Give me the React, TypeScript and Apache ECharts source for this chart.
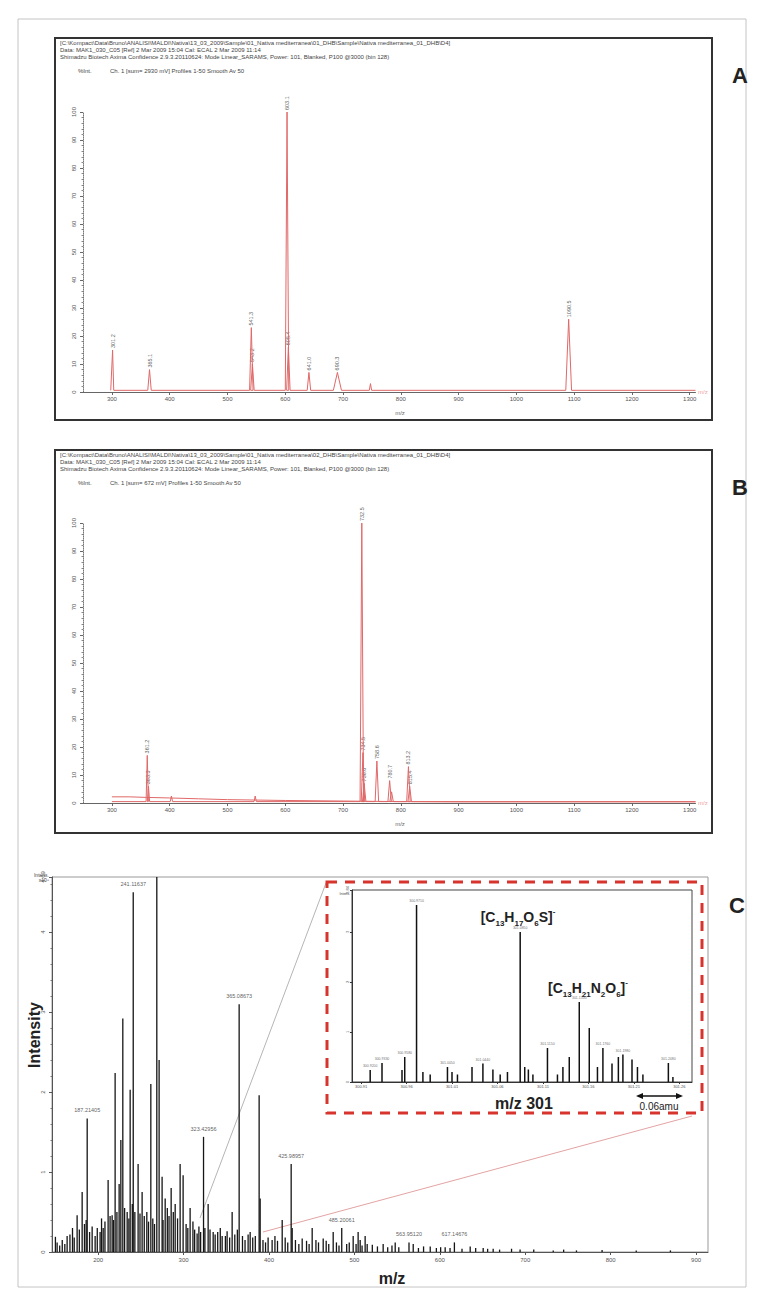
import React, { useEffect, useRef } from "react";
import * as echarts from "echarts";

// ---------- DATA ----------
// Panel A (MALDI, relative intensity %)
const mzA = [301.2, 365.1, 541.3, 543.2, 603.1, 605.4, 641.0, 690.3, 747.5, 1090.5];
const intA = [15, 8, 23, 10, 100, 16, 7, 7, 3, 26];
const halfWidthA = [2, 3, 3, 3, 3, 3, 3, 7, 2, 5];
const labelA = ["301.2", "365.1", "541.3", "543.2", "603.1", "605.4", "641.0", "690.3", "", "1090.5"];
const baseA = 0.6;

// Panel B
const mzB = [361.2, 363.3, 403.0, 548.0, 732.5, 734.5, 736.6, 758.6, 780.7, 784.0, 813.2, 815.4];
const intB = [17, 6, 2.5, 2.5, 100, 18, 7, 15, 8, 4, 13, 6];
const halfWidthB = [2, 2, 2, 2, 3, 3, 3, 3, 3, 3, 3, 3];
const labelB = ["361.2", "363.3", "", "", "732.5", "734.5", "736.6", "758.6", "780.7", "", "813.2", "815.4"];
const baseBmz = [300, 330, 360, 400, 450, 500, 600, 700, 800, 900, 1310];
const baseBint = [2.2, 2.2, 2.0, 1.8, 1.5, 1.2, 0.9, 0.7, 0.5, 0.4, 0.4];

// Panel C main spectrum (intensity x10^8)
const peaksC: [number, number][] = [
  [150, 0.19], [163.7, 0.2], [175.4, 0.46], [181.3, 0.75], [187.2, 1.67], [196.5, 0.2],
  [202.3, 0.25], [205.9, 0.3], [211.7, 0.9], [216.4, 0.46], [219.9, 2.24], [224.6, 0.85],
  [226.6, 1.4], [228.9, 2.92], [234, 0.5], [237.5, 2.03], [241.1, 4.5], [246.8, 1.1],
  [251.5, 0.75], [261.7, 2.1], [268.7, 4.69], [271.4, 2.4], [274.9, 0.94], [278.5, 0.67],
  [285.5, 0.8], [290.2, 0.6], [296, 1.1], [299.5, 0.96], [307.7, 0.55], [315.9, 0.23],
  [323.4, 1.44], [328.8, 0.6], [334.7, 0.25], [345.2, 0.2], [356.9, 0.5], [365.1, 3.1],
  [375.6, 0.22], [388.5, 1.96], [389.7, 0.67], [403.7, 0.15], [415.5, 0.4], [426.0, 1.1],
  [427.2, 0.3], [438.9, 0.17], [450.6, 0.3], [463.5, 0.17], [475.2, 0.25], [485.2, 0.3],
  [498.6, 0.2], [504.4, 0.25], [506.8, 0.15], [512.6, 0.2], [533.7, 0.1], [547.8, 0.12],
  [563.95, 0.12], [568.9, 0.1], [588.8, 0.07], [606.3, 0.06], [617.1, 0.12], [635.6, 0.07],
  [650.8, 0.05], [662.5, 0.04], [694, 0.03], [732.8, 0.02]
];
const carpetC: [number, number][] = [
  [152, 0.12], [155, 0.08], [158, 0.15], [161, 0.1], [167, 0.22], [170, 0.3], [172, 0.18],
  [178, 0.28], [184, 0.35], [186, 0.4], [190, 0.25], [193, 0.32], [199, 0.3], [204, 0.42],
  [208, 0.38], [214, 0.45], [218, 0.4], [222, 0.5], [231, 0.55], [236, 0.42], [240, 0.6],
  [243, 0.5], [249, 0.48], [254, 0.45], [257, 0.5], [259, 0.38], [264, 0.42], [266, 0.35],
  [276, 0.4], [281, 0.55], [283, 0.45], [288, 0.5], [293, 0.42], [303, 0.35], [305, 0.3],
  [311, 0.38], [313, 0.28], [318, 0.32], [320, 0.25], [325, 0.3], [331, 0.28], [337, 0.22],
  [340, 0.25], [343, 0.3], [349, 0.2], [351, 0.26], [354, 0.18], [360, 0.22], [363, 0.28],
  [369, 0.2], [372, 0.15], [378, 0.25], [381, 0.18], [384, 0.2], [393, 0.15], [396, 0.12],
  [399, 0.18], [407, 0.2], [410, 0.14], [419, 0.18], [422, 0.12], [431, 0.15], [435, 0.1],
  [444, 0.14], [447, 0.1], [455, 0.15], [458, 0.12], [467, 0.14], [470, 0.1], [479, 0.12],
  [482, 0.08], [491, 0.1], [494, 0.12], [502, 0.1], [509, 0.08], [515, 0.1], [521, 0.09],
  [527, 0.07], [539, 0.06], [544, 0.08], [552, 0.06], [575, 0.05], [581, 0.07], [596, 0.05],
  [601, 0.06], [612, 0.05], [626, 0.04], [642, 0.05], [656, 0.04], [670, 0.03], [684, 0.04],
  [710, 0.03], [745, 0.03], [760, 0.02], [790, 0.025], [830, 0.02], [870, 0.02]
];
const labelsC: [number, number, string][] = [
  [187.2, 1.67, "187.21405"], [241.1, 4.5, "241.11637"], [323.4, 1.44, "323.42956"],
  [365.1, 3.1, "365.08673"], [426.0, 1.1, "425.98957"], [485.2, 0.3, "485.20061"],
  [563.95, 0.12, "563.95120"], [617.1, 0.12, "617.14676"]
];
const ticksC = [200, 300, 400, 500, 600, 700, 800, 900];

// Inset: m/z 301 region
const peaksInset: [number, number][] = [
  [300.920, 0.24], [300.933, 0.38], [300.955, 0.24], [300.958, 0.5], [300.971, 3.54],
  [300.978, 0.2], [300.986, 0.15], [301.005, 0.3], [301.010, 0.2], [301.016, 0.15],
  [301.032, 0.3], [301.044, 0.37], [301.055, 0.25], [301.063, 0.15], [301.071, 0.2],
  [301.085, 3.0], [301.090, 0.3], [301.094, 0.25], [301.099, 0.15], [301.115, 0.68],
  [301.126, 0.15], [301.132, 0.3], [301.139, 0.5], [301.150, 1.6], [301.161, 1.08],
  [301.170, 0.3], [301.176, 0.68], [301.186, 0.37], [301.193, 0.5], [301.198, 0.55],
  [301.208, 0.45], [301.214, 0.3], [301.220, 0.15], [301.248, 0.38], [301.253, 0.1]
];
const labeledInset = [300.920, 300.933, 300.958, 300.971, 301.005, 301.044, 301.085, 301.115, 301.150, 301.176, 301.198, 301.248];
const ticksInset = [300.91, 300.96, 301.01, 301.06, 301.11, 301.16, 301.21, 301.26];
const ticksAB = [300, 400, 500, 600, 700, 800, 900, 1000, 1100, 1200, 1300];

// ---------- helpers ----------
const FONT = "'Liberation Sans', Arial, sans-serif";

function profile(mz: number[], it: number[], hw: number[], base: number, start: number, end: number) {
  const idx = mz.map((_, i) => i).sort((a, b) => mz[a] - mz[b]);
  const pts: number[][] = [[start, base]];
  for (const i of idx) {
    pts.push([mz[i] - hw[i], base], [mz[i], it[i]], [mz[i] + hw[i], base]);
  }
  pts.push([end, base]);
  return pts;
}

function labelPoints(mz: number[], it: number[], lab: string[]) {
  return mz
    .map((m, i) => ({ value: [m, it[i]], label: { formatter: lab[i] } }))
    .filter((d) => d.label.formatter !== "");
}

function msXAxis(gi: number) {
  return {
    gridIndex: gi, type: "value", min: 250, max: 1310,
    axisLine: { lineStyle: { color: "#666", width: 1 } },
    axisTick: { customValues: ticksAB, length: 3, lineStyle: { color: "#666" } },
    axisLabel: { customValues: ticksAB, fontSize: 6, color: "#555", margin: 4, fontFamily: FONT, formatter: (v: number) => String(v) },
    splitLine: { show: false },
  };
}
function msYAxis(gi: number) {
  return {
    gridIndex: gi, type: "value", min: 0, max: 100, interval: 10,
    axisLine: { show: true, lineStyle: { color: "#777", type: "dotted" } },
    axisTick: { show: true, length: 3, lineStyle: { color: "#666" } },
    minorTick: { show: true, splitNumber: 5, length: 1.5, lineStyle: { color: "#888" } },
    axisLabel: { fontSize: 6, rotate: 90, color: "#555", margin: 6, fontFamily: FONT },
    splitLine: { show: false },
  };
}
const peakLabelStyle = {
  show: true, position: "top", rotate: 90, align: "left", verticalAlign: "middle",
  distance: 2, fontSize: 5.5, color: "#333", fontFamily: FONT,
};

function headerTexts(y0: number, file: string, sum: string) {
  const st = (t: string, x: number, y: number) => ({
    type: "text", x, y,
    style: { text: t, fontSize: 6, fill: "#444", fontFamily: FONT },
  });
  return [
    st("[C:\\Kompact\\Data\\Bruno\\ANALISI\\MALDI\\Nativa\\13_03_2009\\Sample\\01_Nativa mediterranea\\" + file + "\\Sample\\Nativa mediterranea_01_DHB\\D4]", 60, y0),
    st("Data: MAK1_030_C05 [Ref] 2 Mar 2009 15:04 Cal: ECAL 2 Mar 2009 11:14", 60, y0 + 7),
    st("Shimadzu Biotech Axima Confidence 2.9.3.20110624: Mode Linear_SARAMS, Power: 101, Blanked, P100 @3000 (bin 128)", 60, y0 + 14),
    st("%Int.", 78, y0 + 28),
    st("Ch. 1 [sum= " + sum + " mV] Profiles 1-50 Smooth Av 50", 110, y0 + 28),
  ];
}

function formula(parts: [string, string][], x: number, y: number) {
  let text = "";
  for (const [t, k] of parts) text += "{" + k + "|" + t + "}";
  return {
    type: "text", x, y,
    style: {
      text, align: "center", verticalAlign: "middle", fill: "#222", fontFamily: FONT,
      rich: {
        n: { fontSize: 14, fontWeight: "bold", fill: "#222", lineHeight: 20, fontFamily: FONT },
        s: { fontSize: 8, fontWeight: "bold", fill: "#222", verticalAlign: "bottom", lineHeight: 20, fontFamily: FONT },
        p: { fontSize: 8, fontWeight: "bold", fill: "#222", verticalAlign: "top", lineHeight: 20, fontFamily: FONT },
      },
    },
  };
}

export default function App() {
  const ref = useRef<HTMLDivElement>(null);
  useEffect(() => {
    if (!ref.current) return;
    const chart = echarts.init(ref.current, undefined, { renderer: "svg" });

    const option: any = {
      animation: false,
      backgroundColor: "#fff",
      grid: [
        { left: 83, top: 112, width: 612.5, height: 280, outerBoundsMode: "none" },
        { left: 83, top: 523, width: 612.5, height: 280, outerBoundsMode: "none" },
        { left: 52, top: 877, width: 656, height: 375, show: true, borderColor: "#999", borderWidth: 1, outerBoundsMode: "none" },
        { left: 352, top: 890, width: 340, height: 192, show: true, borderColor: "#444", borderWidth: 1, outerBoundsMode: "none" },
      ],
      xAxis: [
        msXAxis(0),
        msXAxis(1),
        {
          gridIndex: 2, type: "value", min: 146, max: 914,
          axisLine: { lineStyle: { color: "#555" } },
          axisTick: { customValues: ticksC, length: 3, lineStyle: { color: "#555" } },
          axisLabel: { customValues: ticksC, fontSize: 6, color: "#555", margin: 5, fontFamily: FONT, formatter: (v: number) => String(v) },
          splitLine: { show: false },
        },
        {
          gridIndex: 3, type: "value", min: 300.9, max: 301.274,
          axisLine: { lineStyle: { color: "#333" } },
          axisTick: { customValues: ticksInset, length: 2, lineStyle: { color: "#333" } },
          axisLabel: { customValues: ticksInset, fontSize: 4, color: "#555", margin: 2, fontFamily: FONT, formatter: (v: number) => v.toFixed(2) },
          splitLine: { show: false },
        },
      ],
      yAxis: [
        msYAxis(0),
        msYAxis(1),
        {
          gridIndex: 2, type: "value", min: 0, max: 4.69, interval: 1,
          axisLine: { show: true, lineStyle: { color: "#555" } },
          axisTick: { show: true, length: 3, lineStyle: { color: "#555" } },
          minorTick: { show: true, splitNumber: 5, length: 1.5, lineStyle: { color: "#777" } },
          axisLabel: { fontSize: 6, rotate: 90, color: "#555", margin: 6, fontFamily: FONT },
          splitLine: { show: false },
        },
        {
          gridIndex: 3, type: "value", min: 0, max: 3.84, interval: 1,
          axisLine: { show: true, lineStyle: { color: "#333" } },
          axisTick: { show: true, length: 2, lineStyle: { color: "#333" } },
          axisLabel: { fontSize: 4, rotate: 90, color: "#555", margin: 3, fontFamily: FONT },
          splitLine: { show: false },
        },
      ],
      series: [
        {
          type: "line", xAxisIndex: 0, yAxisIndex: 0, symbol: "none", silent: true,
          data: profile(mzA, intA, halfWidthA, baseA, 298, 1310),
          lineStyle: { color: "#e06868", width: 1 },
        },
        {
          type: "scatter", xAxisIndex: 0, yAxisIndex: 0, symbolSize: 0, silent: true,
          data: labelPoints(mzA, intA, labelA), label: peakLabelStyle,
        },
        {
          type: "line", xAxisIndex: 1, yAxisIndex: 1, symbol: "none", silent: true,
          data: baseBmz.map((m, i) => [m, baseBint[i]]),
          lineStyle: { color: "#e06868", width: 1 },
        },
        {
          type: "line", xAxisIndex: 1, yAxisIndex: 1, symbol: "none", silent: true,
          data: profile(mzB, intB, halfWidthB, 0.5, 300, 1310),
          lineStyle: { color: "#e06868", width: 1 },
        },
        {
          type: "scatter", xAxisIndex: 1, yAxisIndex: 1, symbolSize: 0, silent: true,
          data: labelPoints(mzB, intB, labelB), label: peakLabelStyle,
        },
        {
          type: "bar", xAxisIndex: 2, yAxisIndex: 2, barWidth: 1.3, silent: true,
          data: [...carpetC, ...peaksC].sort((a, b) => a[0] - b[0]),
          itemStyle: { color: "#151515" },
        },
        {
          type: "scatter", xAxisIndex: 2, yAxisIndex: 2, symbolSize: 0, silent: true,
          data: labelsC.map((l) => ({ value: [l[0], l[1]], label: { formatter: l[2] } })),
          label: { show: true, position: "top", distance: 5, fontSize: 5.5, color: "#333", fontFamily: FONT },
        },
        {
          type: "bar", xAxisIndex: 3, yAxisIndex: 3, barWidth: 1.5, silent: true,
          data: peaksInset,
          itemStyle: { color: "#111" },
        },
        {
          type: "scatter", xAxisIndex: 3, yAxisIndex: 3, symbolSize: 0, silent: true,
          data: peaksInset.filter((p) => labeledInset.includes(p[0])).map((p) => ({ value: p, label: { formatter: p[0].toFixed(4) } })),
          label: { show: true, position: "top", distance: 2, fontSize: 3.5, color: "#444", fontFamily: FONT },
        },
      ],
      graphic: [
        { type: "rect", shape: { x: 18, y: 19, width: 728, height: 1268 }, style: { fill: "none", stroke: "#c4c4c4", lineWidth: 1 } },
        { type: "rect", shape: { x: 55, y: 38, width: 657, height: 382 }, style: { fill: "none", stroke: "#333", lineWidth: 2 } },
        { type: "rect", shape: { x: 55, y: 450, width: 657, height: 383 }, style: { fill: "none", stroke: "#333", lineWidth: 2 } },
        ...headerTexts(40, "01_DHB", "2930"),
        ...headerTexts(452, "02_DHB", "672"),
        { type: "text", x: 400, y: 410, style: { text: "m/z", fontSize: 6, fill: "#666", fontFamily: FONT, align: "center" } },
        { type: "text", x: 400, y: 821, style: { text: "m/z", fontSize: 6, fill: "#666", fontFamily: FONT, align: "center" } },
        { type: "text", x: 698, y: 389, style: { text: "m/z", fontSize: 6, fill: "#f0a0a0", fontFamily: FONT } },
        { type: "text", x: 698, y: 800, style: { text: "m/z", fontSize: 6, fill: "#f0a0a0", fontFamily: FONT } },
        { type: "text", x: 740, y: 75, style: { text: "A", fontSize: 22, fontWeight: "bold", fill: "#222", fontFamily: FONT, align: "center", verticalAlign: "middle" } },
        { type: "text", x: 740, y: 487, style: { text: "B", fontSize: 22, fontWeight: "bold", fill: "#222", fontFamily: FONT, align: "center", verticalAlign: "middle" } },
        { type: "text", x: 737, y: 905, style: { text: "C", fontSize: 22, fontWeight: "bold", fill: "#222", fontFamily: FONT, align: "center", verticalAlign: "middle" } },
        // panel C annotations
        { type: "text", x: 34, y: 1035, rotation: Math.PI / 2, style: { text: "Intensity", fontSize: 16, fontWeight: "bold", fill: "#222", fontFamily: FONT, align: "center", verticalAlign: "middle" } },
        { type: "text", x: 392, y: 1278, style: { text: "m/z", fontSize: 16, fontWeight: "bold", fill: "#222", fontFamily: FONT, align: "center", verticalAlign: "middle" } },
        { type: "text", x: 49, y: 872, style: { text: "Intens.\nx10⁸", fontSize: 5, fill: "#444", fontFamily: FONT, align: "right" } },
        { type: "line", shape: { x1: 200, y1: 1218, x2: 326, y2: 883 }, style: { stroke: "#b5b5b5", lineWidth: 1 } },
        { type: "line", shape: { x1: 263, y1: 1232, x2: 692, y2: 1116 }, style: { stroke: "#e3a3a3", lineWidth: 1 } },
        { type: "rect", shape: { x: 327, y: 882, width: 375, height: 231 }, style: { fill: "none", stroke: "#d8342e", lineWidth: 3, lineDash: [10, 8] } },
        { type: "text", x: 350, y: 892, style: { text: "Intens.", fontSize: 3.5, fill: "#444", fontFamily: FONT, align: "right" } },
        formula([["[C", "n"], ["13", "s"], ["H", "n"], ["17", "s"], ["O", "n"], ["6", "s"], ["S]", "n"], ["-", "p"]], 518, 917),
        formula([["[C", "n"], ["13", "s"], ["H", "n"], ["21", "s"], ["N", "n"], ["2", "s"], ["O", "n"], ["6", "s"], ["]", "n"], ["-", "p"]], 588, 988),
        { type: "text", x: 524, y: 1103, style: { text: "m/z 301", fontSize: 16, fontWeight: "bold", fill: "#222", fontFamily: FONT, align: "center", verticalAlign: "middle" } },
        { type: "line", shape: { x1: 641, y1: 1096, x2: 678, y2: 1096 }, style: { stroke: "#111", lineWidth: 1.5 } },
        { type: "polygon", shape: { points: [[636, 1096], [643, 1093], [643, 1099]] }, style: { fill: "#111" } },
        { type: "polygon", shape: { points: [[683, 1096], [676, 1093], [676, 1099]] }, style: { fill: "#111" } },
        { type: "text", x: 659, y: 1106, style: { text: "0.06amu", fontSize: 10, fill: "#222", fontFamily: FONT, align: "center", verticalAlign: "middle" } },
      ],
    };
    chart.setOption(option);
    return () => chart.dispose();
  }, []);
  return (
    <div
      ref={ref}
      style={{ position: "fixed", left: 0, top: 0, width: 763, height: 1294, background: "#fff" }}
    />
  );
}
